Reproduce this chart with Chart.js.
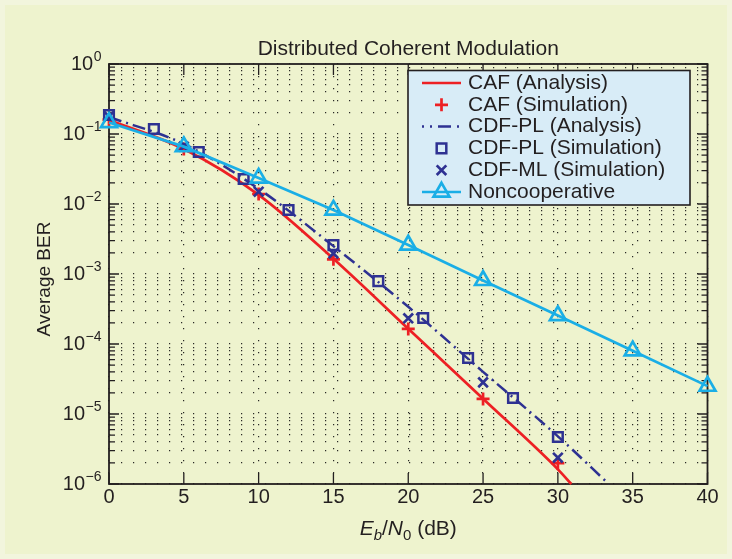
<!DOCTYPE html>
<html>
<head>
<meta charset="utf-8">
<script src="https://cdn.jsdelivr.net/npm/chart.js@4.4.1/dist/chart.umd.min.js"></script>
<style>
html,body{margin:0;padding:0;background:#eef3ce;}
#wrap{width:732px;height:559px;}
canvas{display:block;}
</style>
</head>
<body>
<div id="wrap"><canvas id="c" width="732" height="559"></canvas></div>
<script>
// ---------- text ----------
const chartTitle = 'Distributed Coherent Modulation';
const yAxisTitle = 'Average BER';
const xAxisTitleParts = ['E', 'b', '/', 'N', '0', ' (dB)'];
const xTickValues = [0, 5, 10, 15, 20, 25, 30, 35, 40];
const xTickLabels = ['0', '5', '10', '15', '20', '25', '30', '35', '40'];
const yDecadeValues = [1, 1e-1, 1e-2, 1e-3, 1e-4, 1e-5, 1e-6];
const yTickBase = '10';
const yTickExponents = ['0', '\u22121', '\u22122', '\u22123', '\u22124', '\u22125', '\u22126'];
const seriesNames = ['CAF (Analysis)', 'CAF (Simulation)', 'CDF-PL (Analysis)', 'CDF-PL (Simulation)', 'CDF-ML (Simulation)', 'Noncooperative'];

// ---------- data (Eb/N0 in dB, average BER) ----------
const cafAnalysisSnr = [0, 5, 10, 15, 20, 25, 30, 30.9];
const cafAnalysisBer = [0.158, 0.061, 0.0135, 1.65e-3, 1.65e-4, 1.65e-5, 1.62e-6, 1.0e-6];
const cafSimSnr = [0, 5, 10, 15, 20, 25, 30];
const cafSimBer = [0.16, 0.061, 0.0139, 1.62e-3, 1.64e-4, 1.64e-5, 1.98e-6];
const plAnalysisSnr = [0, 5, 10, 15, 20, 25, 30, 33.4];
const plAnalysisBer = [0.175, 0.072, 0.0165, 2.5e-3, 3.4e-4, 4.0e-5, 4.8e-6, 1.0e-6];
const plSimSnr = [0, 3, 6, 9, 12, 15, 18, 21, 24, 27, 30];
const plSimBer = [0.187, 0.118, 0.0553, 0.0228, 0.0082, 2.59e-3, 7.9e-4, 2.35e-4, 6.3e-5, 1.69e-5, 4.7e-6];
const mlSimSnr = [0, 5, 10, 15, 20, 25, 30];
const mlSimBer = [0.178, 0.066, 0.015, 1.97e-3, 2.33e-4, 2.83e-5, 2.38e-6];
const noncoopSnr = [0, 5, 10, 15, 20, 25, 30, 35, 40];
const noncoopBer = [0.146, 0.066, 0.0235, 0.0082, 2.6e-3, 8.1e-4, 2.55e-4, 8.0e-5, 2.5e-5];

// ---------- style ----------
const FONT = "'Liberation Sans', Arial, Helvetica, sans-serif";
const TEXT = '#231f20';
const RED = '#ed2024';
const BLUE = '#2e3192';
const CYAN = '#1aaee6';
const BG = '#eef3ce';
const LEGEND_BG = '#d8ecf7';
const GRID = 'rgba(20,20,20,0.9)';
const DASHDOT = [13, 5, 2, 5];

// axis gridline values (1..9 x 10^k)
const yGridValues = [];
for (let k = -6; k < 0; k++) {
  for (let m = 1; m <= 9; m++) yGridValues.push(parseFloat((m * Math.pow(10, k)).toPrecision(3)));
}
yGridValues.push(1);

const pts = (xs, ys) => xs.map((x, i) => ({x: x, y: ys[i]}));

const datasets = [
  {label: seriesNames[0], data: pts(cafAnalysisSnr, cafAnalysisBer), borderColor: RED, borderWidth: 2.7,
   pointRadius: 0, cubicInterpolationMode: 'monotone', fill: false, order: 5, clip: false, _sample: 'line'},
  {label: seriesNames[1], data: pts(cafSimSnr, cafSimBer), showLine: false, pointStyle: 'cross', pointRadius: 6.5,
   pointBorderColor: RED, pointBorderWidth: 2.7, borderColor: RED, order: 4, clip: false, _sample: 'marker'},
  {label: seriesNames[2], data: pts(plAnalysisSnr, plAnalysisBer), borderColor: BLUE, borderWidth: 2.5, borderDash: DASHDOT,
   pointRadius: 0, cubicInterpolationMode: 'monotone', fill: false, order: 3, clip: false, _sample: 'dash'},
  {label: seriesNames[3], data: pts(plSimSnr, plSimBer), showLine: false, pointStyle: 'rect', pointRadius: 6.8,
   pointBorderColor: BLUE, pointBackgroundColor: 'rgba(0,0,0,0)', pointBorderWidth: 2.5, borderColor: BLUE, order: 2, clip: false, _sample: 'marker'},
  {label: seriesNames[4], data: pts(mlSimSnr, mlSimBer), showLine: false, pointStyle: 'crossRot', pointRadius: 6.8,
   pointBorderColor: BLUE, pointBorderWidth: 2.7, borderColor: BLUE, order: 1, clip: false, _sample: 'marker'},
  {label: seriesNames[5], data: pts(noncoopSnr, noncoopBer), borderColor: CYAN, borderWidth: 2.7, tension: 0,
   pointStyle: 'triangle', pointRadius: 9.2, pointBorderColor: CYAN, pointBackgroundColor: 'rgba(0,0,0,0)', pointBorderWidth: 2.7,
   fill: false, order: 0, clip: false, _sample: 'linemarker'}
];

function drawMarker(ctx, style, x, y, r, color, lw) {
  ctx.save();
  ctx.strokeStyle = color; ctx.lineWidth = lw; ctx.setLineDash([]);
  ctx.beginPath();
  if (style === 'cross') {
    ctx.moveTo(x - r, y); ctx.lineTo(x + r, y); ctx.moveTo(x, y - r); ctx.lineTo(x, y + r);
  } else if (style === 'crossRot') {
    const d = r * Math.SQRT1_2;
    ctx.moveTo(x - d, y - d); ctx.lineTo(x + d, y + d); ctx.moveTo(x - d, y + d); ctx.lineTo(x + d, y - d);
  } else if (style === 'rect') {
    const s = r * Math.SQRT1_2;
    ctx.rect(x - s, y - s, 2 * s, 2 * s);
  } else if (style === 'triangle') {
    ctx.moveTo(x, y - r); ctx.lineTo(x + 0.866 * r, y + 0.5 * r); ctx.lineTo(x - 0.866 * r, y + 0.5 * r); ctx.closePath();
  }
  ctx.stroke();
  ctx.restore();
}

const backgroundPlugin = {
  id: 'bgFill',
  beforeDraw(chart) {
    const ctx = chart.ctx;
    ctx.save();
    ctx.fillStyle = '#f2f5dd';
    ctx.fillRect(0, 0, chart.width, chart.height);
    ctx.fillStyle = BG;
    ctx.fillRect(5, 5, chart.width - 10, chart.height - 10);
    ctx.restore();
  }
};

const axesFramePlugin = {
  id: 'axesFrame',
  beforeDatasetsDraw(chart) {
    const {ctx, chartArea: a} = chart;
    const xs = chart.scales.x, ys = chart.scales.y;
    ctx.save();
    ctx.strokeStyle = TEXT;
    ctx.lineWidth = 1.3;
    ctx.setLineDash([]);
    ctx.beginPath();
    xTickValues.forEach(v => {
      const px = xs.getPixelForValue(v);
      ctx.moveTo(px, a.bottom); ctx.lineTo(px, a.bottom - 11);
      ctx.moveTo(px, a.top); ctx.lineTo(px, a.top + 11);
    });
    yGridValues.forEach(v => {
      const py = ys.getPixelForValue(v);
      const len = yDecadeValues.includes(v) ? 10 : 6;
      ctx.moveTo(a.left, py); ctx.lineTo(a.left + len, py);
      ctx.moveTo(a.right, py); ctx.lineTo(a.right - len, py);
    });
    ctx.stroke();
    ctx.lineWidth = 1.8;
    ctx.strokeRect(a.left, a.top, a.right - a.left, a.bottom - a.top);
    ctx.restore();
  }
};

const annotationPlugin = {
  id: 'annotations',
  afterDraw(chart) {
    const {ctx, chartArea: a} = chart;
    const ys = chart.scales.y;
    ctx.save();
    ctx.fillStyle = TEXT;

    // y tick labels 10^k
    yDecadeValues.forEach((v, i) => {
      const py = ys.getPixelForValue(v);
      ctx.font = '14px ' + FONT;
      const ew = ctx.measureText(yTickExponents[i]).width;
      const ex = 101.5 - ew;
      ctx.textAlign = 'left'; ctx.textBaseline = 'middle';
      ctx.fillText(yTickExponents[i], ex, py - 7);
      ctx.font = '20px ' + FONT;
      ctx.textAlign = 'right';
      ctx.fillText(yTickBase, ex - 0.5, py);
    });

    // y axis title
    ctx.save();
    ctx.translate(45, 279);
    ctx.rotate(-Math.PI / 2);
    ctx.font = '19px ' + FONT;
    ctx.textAlign = 'center'; ctx.textBaseline = 'middle';
    ctx.fillText(yAxisTitle, 0, 0);
    ctx.restore();

    // x axis title: E_b/N_0 (dB)
    const parts = [
      {t: xAxisTitleParts[0], f: 'italic 21px ', dy: 0},
      {t: xAxisTitleParts[1], f: 'italic 15px ', dy: 5},
      {t: xAxisTitleParts[2], f: '21px ', dy: 0},
      {t: xAxisTitleParts[3], f: 'italic 21px ', dy: 0},
      {t: xAxisTitleParts[4], f: '15px ', dy: 5},
      {t: xAxisTitleParts[5], f: '21px ', dy: 0}
    ];
    let total = 0;
    parts.forEach(p => { ctx.font = p.f + FONT; p.w = ctx.measureText(p.t).width; total += p.w; });
    let cx = (a.left + a.right) / 2 - total / 2;
    const base = 534.5;
    ctx.textAlign = 'left'; ctx.textBaseline = 'alphabetic';
    parts.forEach(p => { ctx.font = p.f + FONT; ctx.fillText(p.t, cx, base + p.dy); cx += p.w; });

    // legend
    const lx = 408, ly = 70.5, lw = 282, lh = 134.5;
    ctx.fillStyle = LEGEND_BG;
    ctx.fillRect(lx, ly, lw, lh);
    ctx.strokeStyle = TEXT; ctx.lineWidth = 1.6; ctx.setLineDash([]);
    ctx.strokeRect(lx, ly, lw, lh);
    const rowY0 = 83, rowStep = 21.8, sx1 = 422, sx2 = 461, mx = 441.5, tx = 468;
    chart.data.datasets.forEach((ds, i) => {
      const y = rowY0 + i * rowStep;
      if (ds._sample === 'line' || ds._sample === 'dash' || ds._sample === 'linemarker') {
        ctx.save();
        ctx.strokeStyle = ds.borderColor; ctx.lineWidth = ds.borderWidth;
        ctx.setLineDash(ds._sample === 'dash' ? [2, 6, 13, 6] : []);
        ctx.lineDashOffset = ds._sample === 'dash' ? -8 : 0;
        ctx.beginPath(); ctx.moveTo(sx1, y); ctx.lineTo(sx2, y); ctx.stroke();
        ctx.restore();
      }
      if (ds._sample === 'marker' || ds._sample === 'linemarker') {
        drawMarker(ctx, ds.pointStyle, mx, y, ds.pointRadius, ds.pointBorderColor, ds.pointBorderWidth);
      }
      ctx.fillStyle = TEXT;
      ctx.font = '21px ' + FONT;
      ctx.textAlign = 'left'; ctx.textBaseline = 'middle';
      ctx.fillText(ds.label, tx, y);
    });
    ctx.restore();
  }
};

new Chart(document.getElementById('c'), {
  type: 'line',
  data: {datasets: datasets},
  options: {
    responsive: false,
    animation: false,
    events: [],
    layout: {padding: {left: 20, right: 24.5, top: 36.4, bottom: 10}},
    plugins: {
      legend: {display: false},
      tooltip: {enabled: false},
      title: {
        display: true, text: chartTitle, color: TEXT, fullSize: false,
        font: {family: FONT, size: 21, weight: 'normal', lineHeight: 1.2},
        padding: {top: 0, bottom: 2.4}
      }
    },
    scales: {
      x: {
        type: 'linear', min: 0, max: 40,
        afterFit: s => { s.height = 65; },
        afterBuildTicks: s => { s.ticks = xTickValues.map(v => ({value: v})); },
        ticks: {color: TEXT, font: {family: FONT, size: 20}, padding: 1.5, maxRotation: 0, autoSkip: false,
                callback: (v, i) => xTickLabels[i]},
        grid: {drawTicks: false, color: GRID, lineWidth: 1.2},
        border: {display: false, dash: [1.2, 10.8]}
      },
      y: {
        type: 'logarithmic', min: 1e-6, max: 1,
        afterFit: s => { s.width = 89; },
        afterBuildTicks: s => { s.ticks = yGridValues.map(v => ({value: v})); },
        ticks: {display: false},
        grid: {drawTicks: false, color: GRID, lineWidth: 1.2},
        border: {display: false, dash: [1.2, 10.8]}
      }
    }
  },
  plugins: [backgroundPlugin, axesFramePlugin, annotationPlugin]
});
</script>
</body>
</html>
